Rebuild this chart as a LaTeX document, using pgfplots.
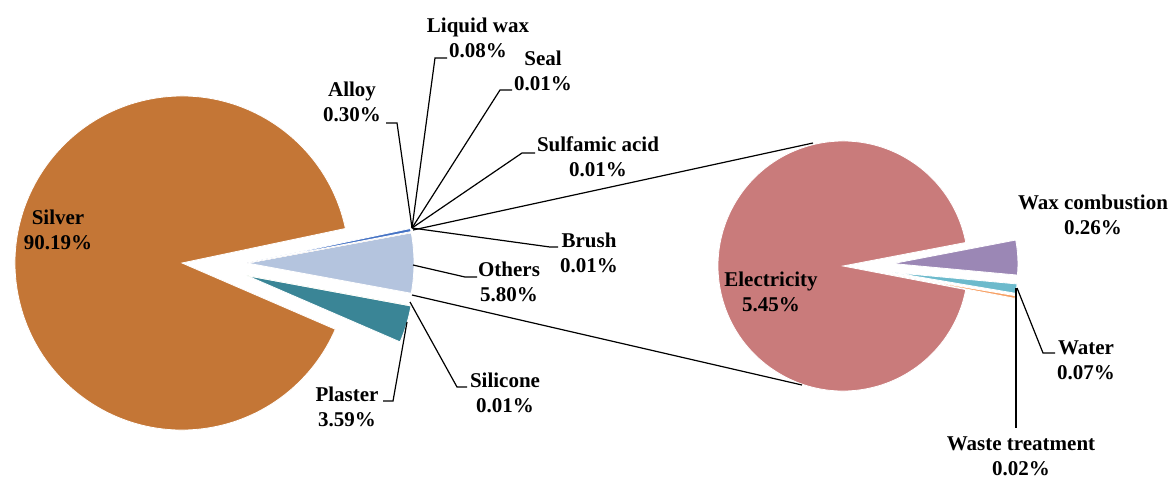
\documentclass[border=0pt]{standalone}
\usepackage{pgfplots}
\pgfplotsset{compat=1.18}
\usepackage{pgfplotstable}
\usepackage{fontspec}
\setmainfont{Liberation Serif}

\definecolor{cSilver}{RGB}{196,118,54}
\definecolor{cOthers}{RGB}{180,196,222}
\definecolor{cPlaster}{RGB}{58,133,150}
\definecolor{cAlloy}{RGB}{68,114,196}
\definecolor{cLwax}{RGB}{228,108,58}
\definecolor{cSeal}{RGB}{165,165,165}
\definecolor{cSulf}{RGB}{255,192,0}
\definecolor{cBrush}{RGB}{91,155,213}
\definecolor{cSilicone}{RGB}{112,173,71}
\definecolor{cElec}{RGB}{201,123,123}
\definecolor{cWaxc}{RGB}{155,135,181}
\definecolor{cWater}{RGB}{108,186,204}
\definecolor{cWaste}{RGB}{247,160,100}

% main pie, counter-clockwise from the lower edge of "Others"
\pgfplotstableread{
name value explode exdir color
Others 5.80 65 0 cOthers
Brush 0.01 65 0 cBrush
Sulfamic 0.01 65 0 cSulf
Seal 0.01 65 0 cSeal
Liquidwax 0.08 65 0 cLwax
Alloy 0.30 65 0 cAlloy
Silver 90.19 0 0 cSilver
Plaster 3.59 66 -11 cPlaster
Silicone 0.01 66 -11 cSilicone
}\mainpie

% secondary pie (breakdown of Others)
\pgfplotstableread{
name value explode exdir color
Waste 0.02 50 -10.2 cWaste
Water 0.07 50 -7.4 cWater
Waxcomb 0.26 50 2.8 cWaxc
Electricity 5.45 0 0 cElec
}\subpie

\newcommand\drawpie[5]{% table, cx, cy, radius, start angle
  \pgfplotstablegetrowsof{#1}%
  \pgfmathtruncatemacro\lastrow{\pgfplotsretval-1}%
  \gdef\pietotal{0}%
  \foreach \i in {0,...,\lastrow}{%
    \pgfplotstablegetelem{\i}{value}\of{#1}%
    \pgfmathsetmacro\tmp{\pietotal+\pgfplotsretval}%
    \xdef\pietotal{\tmp}%
  }%
  \pgfmathsetmacro\tmp{#5}\xdef\pieangle{\tmp}%
  \foreach \i in {0,...,\lastrow}{%
    \pgfplotstablegetelem{\i}{value}\of{#1}\let\pv\pgfplotsretval
    \pgfplotstablegetelem{\i}{explode}\of{#1}\let\pex\pgfplotsretval
    \pgfplotstablegetelem{\i}{exdir}\of{#1}\let\pdir\pgfplotsretval
    \pgfplotstablegetelem{\i}{color}\of{#1}\let\pcol\pgfplotsretval
    \pgfmathsetmacro\aend{\pieangle+\pv/\pietotal*360}%
    \fill[\pcol, draw=white, line width=0.4pt]
      (axis cs:#2,#3) ++(\pdir:\pex*0.5pt) -- ++(\pieangle:#4*0.5pt)
      arc[start angle=\pieangle, end angle=\aend, radius=#4*0.5pt] -- cycle;
    \xdef\pieangle{\aend}%
  }%
}

\begin{document}
\begin{tikzpicture}
\begin{axis}[name=main, at={(0,0)}, anchor=south west,
  width=584.5pt, height=239.5pt, scale only axis,
  xmin=0, xmax=1169, ymin=0, ymax=479, hide axis, clip=false]
\pgfplotsextra{
  \drawpie{\mainpie}{182}{216}{167}{-5.80*1.8}
  \drawpie{\subpie}{843}{213}{125}{-(0.02+0.07+0.26)/5.80*180}
  % connector lines
  \draw[black, line width=0.6pt] (axis cs:413,249) -- (axis cs:813,336);
  \draw[black, line width=0.6pt] (axis cs:412,184) -- (axis cs:802,94);
  % leader lines
  \begin{scope}[black, line width=0.6pt]
  \draw (axis cs:386,356) -- (axis cs:397,356) -- (axis cs:412,251);
  \draw (axis cs:447,421) -- (axis cs:435,421) -- (axis cs:412,251);
  \draw (axis cs:512,389) -- (axis cs:500,389) -- (axis cs:412,251);
  \draw (axis cs:535,326) -- (axis cs:522,326) -- (axis cs:412,251);
  \draw (axis cs:412,251) -- (axis cs:550,232) -- (axis cs:558,232);
  \draw (axis cs:413,214) -- (axis cs:465,202) -- (axis cs:477,202);
  \draw (axis cs:410,177) -- (axis cs:457,92) -- (axis cs:467,92);
  \draw (axis cs:407,157) -- (axis cs:393,78) -- (axis cs:383,78);
  \draw (axis cs:1017,191) -- (axis cs:1043,126) -- (axis cs:1055,126);
  \draw (axis cs:1016,191) -- (axis cs:1016,51);
  \end{scope}
  % labels
  \begin{scope}[every node/.style={font=\fontsize{10.5}{12.5}\selectfont\bfseries, align=center, inner sep=0pt}]
  \node at (axis cs:58,249) {Silver\\90.19\%};
  \node at (axis cs:352,377) {Alloy\\0.30\%};
  \node at (axis cs:478,441) {Liquid wax\\0.08\%};
  \node at (axis cs:543,408) {Seal\\0.01\%};
  \node at (axis cs:598,322) {Sulfamic acid\\0.01\%};
  \node at (axis cs:589,226) {Brush\\0.01\%};
  \node at (axis cs:509,197) {Others\\5.80\%};
  \node at (axis cs:505,86) {Silicone\\0.01\%};
  \node at (axis cs:347,72) {Plaster\\3.59\%};
  \node at (axis cs:771,187) {Electricity\\5.45\%};
  \node at (axis cs:1093,264) {Wax combustion\\0.26\%};
  \node at (axis cs:1086,119) {Water\\0.07\%};
  \node at (axis cs:1021,23) {Waste treatment\\0.02\%};
  \end{scope}
}
\end{axis}
\pgfresetboundingbox
\path[use as bounding box] (main.south west) rectangle (main.north east);
\end{tikzpicture}
\end{document}
